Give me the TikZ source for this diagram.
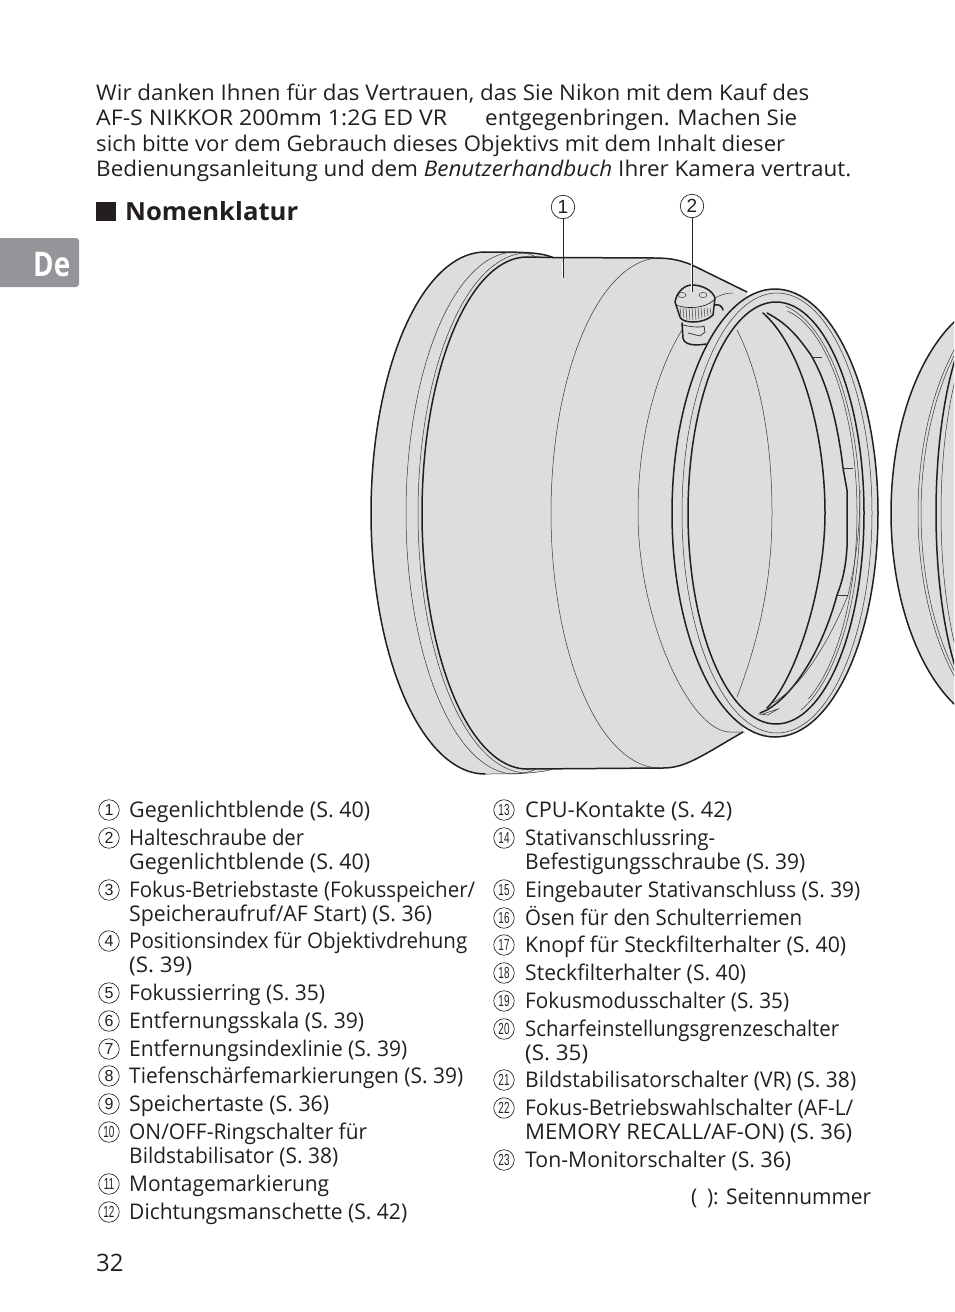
\documentclass[tikz,border=0pt]{standalone}
\usepackage{fontspec}
\usepackage{graphicx}
\setmainfont{Open Sans}
\newfontfamily\numfont{Liberation Sans}
\definecolor{ink}{HTML}{231F20}
\definecolor{lens}{HTML}{DCDDDE}
\definecolor{tabgray}{HTML}{939598}
\newcommand\EA[5]{plot[domain=#4:#5,samples=70,variable=\t,smooth] ({#1+#2*cos(\t)},{513-#3*sin(\t)})}
\newcommand\cn[1]{{\numfont\fontsize{16}{16}\selectfont #1}}
\newcommand\cnn[1]{{\numfont\fontsize{16}{16}\selectfont\scalebox{.62}[1]{#1}}}
% text of width #1 (in px), from #2
\newcommand\W[2]{\resizebox{#1pt}{\height}{#2}}
\tikzset{
 txt/.style={anchor=base west,inner sep=0pt,text=ink,font=\fontsize{21.6}{24}\selectfont},
 cnum/.style={circle,draw=ink,line width=.65pt,inner sep=0pt,minimum size=20.5pt,text=ink},
 bnum/.style={circle,draw=ink,line width=.7pt,inner sep=0pt,minimum size=23.5pt,fill=white,text=ink,font=\numfont\fontsize{19}{19}\selectfont},
 heavy/.style={draw=ink,line width=1.5pt,line cap=round,line join=round},
 fine/.style={draw=ink!90,line width=.5pt},
 rib/.style={draw=ink,line width=.65pt},
 lead/.style={draw=ink,line width=.7pt},
 halo/.style={draw=white,line width=2.4pt},
}
\begin{document}
\begin{tikzpicture}[x=1pt,y=-1pt]
\useasboundingbox (0,0) rectangle (954,1312);
% tab and headings
\fill[tabgray,rounded corners=3pt] (-6,238) rectangle (79,287);
\node[anchor=base west,inner sep=0pt,text=white,font=\bfseries\fontsize{34}{34}\selectfont] (tab) at (33,276) {\W{37}{De}};
\fill[ink] (96,202) rectangle (116,221);
\node[txt,font=\bfseries\fontsize{25}{25}\selectfont] (head) at (125,220.5) {\W{173}{Nomenklatur}};
% intro
\node[txt] (i1) at (96,100) {\W{713}{Wir danken Ihnen für das Vertrauen, das Sie Nikon mit dem Kauf des}};
\node[txt] (i2a) at (96,125) {\W{351}{AF-S NIKKOR 200mm 1:2G ED VR}};
\node[txt] (i2b) at (485,125) {\W{312}{entgegenbringen. Machen Sie}};
\node[txt] (i3) at (96,151) {\W{689}{sich bitte vor dem Gebrauch dieses Objektivs mit dem Inhalt dieser}};
\node[txt] (i4) at (96,176) {\W{755}{Bedienungsanleitung und dem \textit{Benutzerhandbuch} Ihrer Kamera vertraut.}};
% far right hood
\begin{scope}
\clip (0,0) rectangle (954,1312);
\fill[lens] \EA{1011}{120}{217}{90}{270};
\draw[heavy] \EA{1011}{120}{217}{90}{270};
\draw[fine] \EA{1038}{120}{228}{110}{250};
\draw[fine] \EA{1041}{120}{228}{110}{250};
\draw[heavy] \EA{996}{60}{210}{90}{270};
\draw[fine] \EA{1000}{59}{205}{90}{270};
\end{scope}
% hood silhouette
\fill[lens] (485,252) \EA{485}{114}{261}{90}{270} .. controls (520,774) and (540,773) .. (553,769) -- (663,768)
  .. controls (685,768) and (700,757) .. (743,732) -- (747,292) -- (692,265) .. controls (680,260) and (670,258) .. (655,258)
  -- (553,257.5) .. controls (540,252) and (520,252) .. (485,252) -- cycle;
\draw[heavy] \EA{485}{114}{261}{90}{270};
\draw[fine] (485,774) .. controls (520,774) and (540,773) .. (553,769);
\draw[heavy] (485,252) .. controls (520,252) and (540,252) .. (553,257.5) -- (655,258) .. controls (670,258) and (680,260) .. (692,265) -- (747,292);
\draw[heavy] (527,769) -- (663,768) .. controls (685,768) and (700,757) .. (743,732);
\draw[heavy] \EA{527}{105}{256}{90}{270};
\draw[heavy] (527,257) -- (553,257.5);
\draw[fine] \EA{515}{109}{261}{78}{282};
\draw[fine] \EA{527}{109}{260}{90}{270};
\draw[fine] \EA{660}{109}{255}{90}{270};
\draw[fine] (682,330) .. controls (660,365) and (638,430) .. (638,513) .. controls (638,620) and (690,732) .. (730,732) -- (745,732);
% knob base
\fill[lens] (682,323) -- (683,338) .. controls (684,345) and (695,346) .. (703,344) -- (723,312) .. controls (722,306) and (718,304) .. (715,305) -- cycle;
\draw[heavy] (682,323) -- (683,338) .. controls (684,345) and (695,346) .. (706,344);
\draw[heavy] (715,305) .. controls (719,304) and (722,306) .. (723,310);
\draw[rib] (683,325) .. controls (695,328) and (703,327) .. (704,326) -- (705,332) -- (700,336) -- (688,333);
% ring
\fill[lens] (775,513) ellipse[x radius=103,y radius=224];
\draw[heavy] (775,513) ellipse[x radius=103,y radius=224];
\draw[heavy] (776,513) ellipse[x radius=88,y radius=211];
\draw[fine] (777,513) ellipse[x radius=95,y radius=220];
\draw[fine] \EA{773}{84}{205}{-65}{80};
\draw[fine] \EA{770}{90}{210}{-70}{80};
% interior arcs
\draw[fine] (737,330) .. controls (760,375) and (772,440) .. (772,513) .. controls (772,590) and (755,650) .. (737,697);
\draw[heavy] (763,313) .. controls (800,345) and (825,430) .. (825,513) .. controls (825,590) and (795,680) .. (767,708);
\draw[heavy] (767,313) .. controls (790,325) and (800,340) .. (811,355) -- (812,357) .. controls (828,385) and (838,425) .. (843,468) -- (847,490)
  -- (847,547) .. controls (846,565) and (843,580) .. (837,595) .. controls (825,640) and (800,690) .. (767,710) -- (760,713);
\draw[fine] (812,357) -- (822,357) (843,468) -- (853,468) (837,595) -- (848,595);
\draw[fine] (772,703) .. controls (800,690) and (830,640) .. (848,595) .. controls (856,560) and (860,530) .. (860,490);
\draw[fine] (763,714) -- (778,709) -- (768,715) -- (758,714);
% knob
\draw[fine] (715,298) .. controls (722,294) and (728,293) .. (733,293);
\fill[lens] (675,302) .. controls (677,291) and (685,285) .. (692,285) .. controls (703,285) and (713,291) .. (715,298) -- (713,315) .. controls (708,320) and (700,322) .. (693,322) .. controls (686,322) and (681,320) .. (680,317) -- cycle;
\draw[heavy] (675,302) .. controls (677,291) and (685,285) .. (692,285) .. controls (703,285) and (713,291) .. (715,298) -- (713,315) .. controls (708,320) and (700,322) .. (693,322) .. controls (686,322) and (681,320) .. (680,317) -- cycle;
\draw[rib] (676,305) .. controls (685,309) and (705,309) .. (714,300);
\foreach \a/\b/\c in {680/681/316,683/684/318,686/687/320,689/690/320,692/693/320,695/696/320,698/699/319,701/702/318,704/705/317,707/708/316,710/711/314}
  \draw[fine] (\a,308) -- (\b,\c);
\draw[fine] (682,295) ellipse[x radius=4,y radius=2.6];
\draw[fine] (703,295) ellipse[x radius=4,y radius=2.6];
% leaders
\node[bnum] (c1) at (563,207) {1};
\node[bnum] (c2) at (692,206) {2};
\coordinate (e1) at (563,278);
\coordinate (e2) at (692,292);
\draw[halo] (563,262) -- (e1);
\draw[halo] (692,262) -- (e2);
\draw[lead] (c1) -- (e1);
\draw[lead] (c2) -- (e2);
% left column
\newcommand\en[3]{\node[cnum] (#1) at (109,#2) {#3};}
\newcommand\fn[3]{\node[cnum] (#1) at (504,#2) {#3};}
\en{a1}{810}{\cn{1}}\node[txt] (ta1) at (129,817) {\W{241}{Gegenlichtblende (S. 40)}};
\en{a2}{838}{\cn{2}}\node[txt] (ta2) at (129,845) {\W{175}{Halteschraube der}};
\node[txt] (ta2b) at (129,869) {\W{241}{Gegenlichtblende (S. 40)}};
\en{a3}{890}{\cn{3}}\node[txt] (ta3) at (129,897) {\W{346}{Fokus-Betriebstaste (Fokusspeicher/}};
\node[txt] (ta3b) at (129,921) {\W{303}{Speicheraufruf/AF Start) (S. 36)}};
\en{a4}{941}{\cn{4}}\node[txt] (ta4) at (129,948) {\W{338}{Positionsindex für Objektivdrehung}};
\node[txt] (ta4b) at (129,972) {\W{63}{(S. 39)}};
\en{a5}{993}{\cn{5}}\node[txt] (ta5) at (129,1000) {\W{196}{Fokussierring (S. 35)}};
\en{a6}{1021}{\cn{6}}\node[txt] (ta6) at (129,1028) {\W{235}{Entfernungsskala (S. 39)}};
\en{a7}{1049}{\cn{7}}\node[txt] (ta7) at (129,1056) {\W{278}{Entfernungsindexlinie (S. 39)}};
\en{a8}{1076}{\cn{8}}\node[txt] (ta8) at (129,1083) {\W{334}{Tiefenschärfemarkierungen (S. 39)}};
\en{a9}{1104}{\cn{9}}\node[txt] (ta9) at (129,1111) {\W{200}{Speichertaste (S. 36)}};
\en{a10}{1132}{\cnn{10}}\node[txt] (ta10) at (129,1139) {\W{238}{ON/OFF-Ringschalter für}};
\node[txt] (ta10b) at (129,1163) {\W{209}{Bildstabilisator (S. 38)}};
\en{a11}{1184}{\cnn{11}}\node[txt] (ta11) at (129,1191) {\W{200}{Montagemarkierung}};
\en{a12}{1212}{\cnn{12}}\node[txt] (ta12) at (129,1219) {\W{278}{Dichtungsmanschette (S. 42)}};
% right column
\fn{b13}{810}{\cnn{13}}\node[txt] (tb13) at (525,817) {\W{207}{CPU-Kontakte (S. 42)}};
\fn{b14}{838}{\cnn{14}}\node[txt] (tb14) at (525,845) {\W{190}{Stativanschlussring-}};
\node[txt] (tb14b) at (525,869) {\W{280}{Befestigungsschraube (S. 39)}};
\fn{b15}{890}{\cnn{15}}\node[txt] (tb15) at (525,897) {\W{335}{Eingebauter Stativanschluss (S. 39)}};
\fn{b16}{918}{\cnn{16}}\node[txt] (tb16) at (525,925) {\W{277}{Ösen für den Schulterriemen}};
\fn{b17}{945}{\cnn{17}}\node[txt] (tb17) at (525,952) {\W{321}{Knopf für Steckfilterhalter (S. 40)}};
\fn{b18}{973}{\cnn{18}}\node[txt] (tb18) at (525,980) {\W{221}{Steckfilterhalter (S. 40)}};
\fn{b19}{1001}{\cnn{19}}\node[txt] (tb19) at (525,1008) {\W{264}{Fokusmodusschalter (S. 35)}};
\fn{b20}{1029}{\cnn{20}}\node[txt] (tb20) at (525,1036) {\W{314}{Scharfeinstellungsgrenzeschalter}};
\node[txt] (tb20b) at (525,1060) {\W{63}{(S. 35)}};
\fn{b21}{1080}{\cnn{21}}\node[txt] (tb21) at (525,1087) {\W{331}{Bildstabilisatorschalter (VR) (S. 38)}};
\fn{b22}{1108}{\cnn{22}}\node[txt] (tb22) at (525,1115) {\W{328}{Fokus-Betriebswahlschalter (AF-L/}};
\node[txt] (tb22b) at (525,1139) {\W{327}{MEMORY RECALL/AF-ON) (S. 36)}};
\fn{b23}{1160}{\cnn{23}}\node[txt] (tb23) at (525,1167) {\W{266}{Ton-Monitorschalter (S. 36)}};
\node[txt] (pg) at (691,1204) {\W{180}{(\hspace{10pt}): Seitennummer}};
\node[txt,font=\fontsize{24}{24}\selectfont] (num) at (96,1271) {32};
\end{tikzpicture}
\end{document}
